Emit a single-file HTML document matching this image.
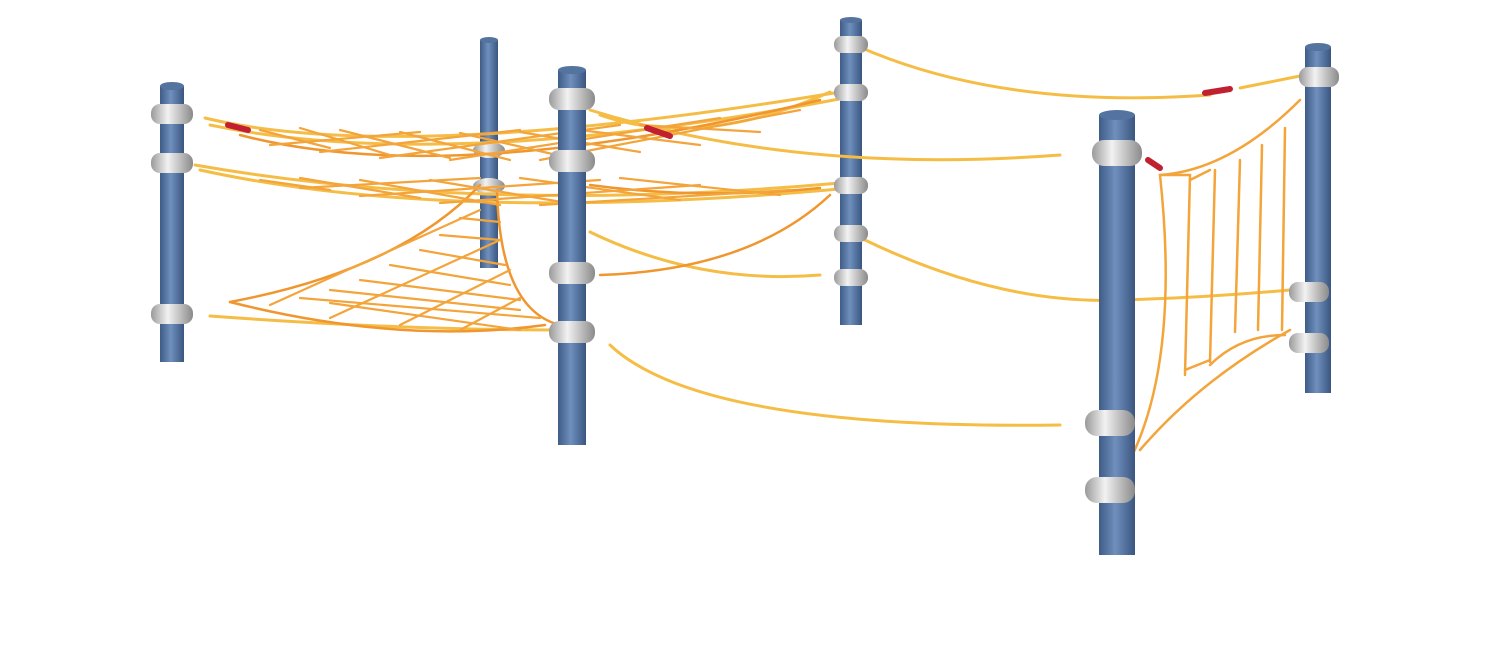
<!DOCTYPE html>
<html><head><meta charset="utf-8"><style>
html,body{margin:0;padding:0;background:#fff;width:1500px;height:670px;overflow:hidden}
</style></head><body>
<svg width="1500" height="670" viewBox="0 0 1500 670" xmlns="http://www.w3.org/2000/svg">
<defs>
<linearGradient id="pg" x1="0" x2="1" y1="0" y2="0">
<stop offset="0" stop-color="#3e5c86"/><stop offset="0.45" stop-color="#6f8fbd"/><stop offset="1" stop-color="#3a5680"/></linearGradient>
<linearGradient id="cg" x1="0" x2="1" y1="0" y2="0">
<stop offset="0" stop-color="#9a9a9a"/><stop offset="0.4" stop-color="#f2f2f2"/><stop offset="1" stop-color="#8a8a8a"/></linearGradient>
</defs>
<g fill="none" stroke-linecap="round">
<!-- back post 2 -->
<rect x="480" y="40" width="18" height="228" fill="url(#pg)"/>
<ellipse cx="489" cy="40" rx="9" ry="3" fill="#54739f"/>
<ellipse cx="489" cy="150" rx="16" ry="8" fill="url(#cg)"/>
<ellipse cx="489" cy="186" rx="16" ry="8" fill="url(#cg)"/>
<!-- post 4 -->
<rect x="840" y="20" width="22" height="305" fill="url(#pg)"/>
<!-- left nets top -->
<g stroke="#f5bd45" stroke-width="3">
<path d="M205 118 Q400 165 840 92"/>
<path d="M210 125 Q450 175 860 95"/>
<path d="M195 165 Q480 215 840 183"/>
<path d="M200 170 Q450 225 850 188"/>
<path d="M590 110 Q800 175 1060 155"/>
<path d="M600 115 Q700 150 830 92"/>
<path d="M855 45 Q1000 110 1210 95"/>
<path d="M1240 88 Q1280 80 1305 75"/>
<path d="M590 232 Q700 285 820 275"/>
<path d="M865 240 Q1000 305 1120 300 Q1200 298 1290 290"/>
<path d="M610 345 Q700 430 1060 425"/>
<path d="M210 316 Q400 330 560 330"/>
</g>
<g stroke="#f0962e" stroke-width="2.5">
<path d="M240 135 Q450 190 820 100"/>
<path d="M600 275 Q750 270 830 195"/>
<path d="M230 302 Q400 270 480 185"/>
<path d="M230 302 Q400 345 545 325"/>
<path d="M497 190 Q500 310 560 325"/>
<path d="M590 185 Q700 200 820 188"/>
</g>
<!-- net grids -->
<g stroke="#f3a43a" stroke-width="2.2">
<path d="M260 130 L330 148 M300 128 L390 155 M340 130 L450 158 M400 132 L510 160 M460 133 L570 158 M520 132 L640 152 M580 130 L700 145 M640 125 L760 132"/>
<path d="M270 145 L420 132 M320 152 L520 130 M380 158 L620 125 M450 160 L720 118 M540 160 L800 110"/>
<path d="M260 180 L330 190 M300 178 L420 198 M360 180 L500 205 M430 180 L580 205 M520 178 L680 200 M620 178 L780 195"/>
<path d="M300 188 L480 178 M360 196 L600 180 M440 203 L700 185 M540 205 L790 190"/>
<path d="M330 290 L520 310 M300 298 L540 318 M360 280 L520 300 M390 265 L510 285 M420 250 L505 265 M440 235 L500 240 M460 218 L500 222"/>
<path d="M270 305 L480 210 M330 318 L500 240 M400 325 L510 270 M460 330 L520 298 M330 303 L520 330"/>
</g>
<!-- right ladder net -->
<g stroke="#f3a43a" stroke-width="2.5">
<path d="M1130 460 Q1180 360 1160 175 Q1230 170 1300 100"/>
<path d="M1140 450 Q1200 380 1290 330"/>
<path d="M1160 175 L1190 175 L1185 375 M1215 170 L1210 362 M1240 160 L1235 332 M1262 145 L1258 330 M1285 128 L1282 330"/>
<path d="M1190 180 L1210 170 M1185 370 L1210 360 M1210 365 Q1240 335 1285 335"/>
</g>
<!-- post 1 -->
<rect x="160" y="86" width="24" height="276" fill="url(#pg)"/>
<ellipse cx="172" cy="86" rx="12" ry="4" fill="#54739f"/>
<!-- post 3 -->
<rect x="558" y="70" width="28" height="375" fill="url(#pg)"/>
<ellipse cx="572" cy="70" rx="14" ry="4" fill="#54739f"/>
<ellipse cx="851" cy="20" rx="11" ry="3" fill="#54739f"/>
<!-- post 6 -->
<rect x="1305" y="47" width="26" height="346" fill="url(#pg)"/>
<ellipse cx="1318" cy="47" rx="13" ry="4" fill="#54739f"/>
<!-- post 5 -->
<rect x="1099" y="115" width="36" height="440" fill="url(#pg)"/>
<ellipse cx="1117" cy="115" rx="18" ry="5" fill="#54739f"/>
<!-- clamps -->
<g fill="url(#cg)">
<rect x="151" y="104" width="42" height="20" rx="9"/>
<rect x="151" y="153" width="42" height="20" rx="9"/>
<rect x="151" y="304" width="42" height="20" rx="9"/>
<rect x="549" y="88" width="46" height="22" rx="10"/>
<rect x="549" y="150" width="46" height="22" rx="10"/>
<rect x="549" y="262" width="46" height="22" rx="10"/>
<rect x="549" y="321" width="46" height="22" rx="10"/>
<rect x="834" y="36" width="34" height="17" rx="8"/>
<rect x="834" y="84" width="34" height="17" rx="8"/>
<rect x="834" y="177" width="34" height="17" rx="8"/>
<rect x="834" y="225" width="34" height="17" rx="8"/>
<rect x="834" y="269" width="34" height="17" rx="8"/>
<rect x="1092" y="140" width="50" height="26" rx="12"/>
<rect x="1085" y="410" width="50" height="26" rx="12"/>
<rect x="1085" y="477" width="50" height="26" rx="12"/>
<rect x="1299" y="67" width="40" height="20" rx="9"/>
<rect x="1289" y="282" width="40" height="20" rx="9"/>
<rect x="1289" y="333" width="40" height="20" rx="9"/>
</g>
<!-- turnbuckles -->
<g stroke="#c02030" stroke-width="6">
<path d="M228 125 L248 130"/><path d="M647 128 L670 136"/><path d="M1205 93 L1230 89"/><path d="M1148 160 L1160 168"/>
</g>
</g>
</svg>
</body></html>
